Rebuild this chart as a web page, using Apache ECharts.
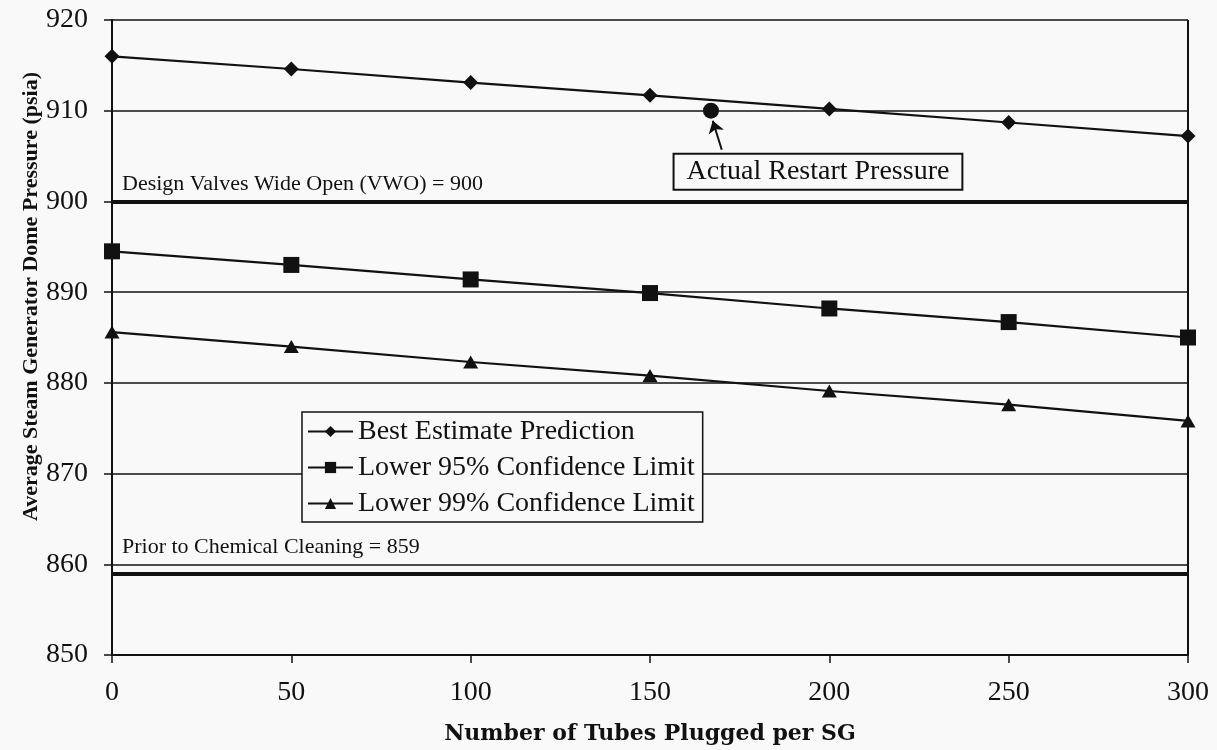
<!DOCTYPE html>
<html>
<head>
<meta charset="utf-8">
<script src="https://cdn.jsdelivr.net/npm/echarts@6/dist/echarts.min.js"></script>
<style>
html,body{margin:0;padding:0;background:#f9f9f9;}
#chart{width:1217px;height:750px;}
</style>
</head>
<body>
<div id="chart"></div>
<script>
// ---- data ----
var tubesPlugged = [0, 50, 100, 150, 200, 250, 300];
var bestEstimate = [916.0, 914.6, 913.1, 911.7, 910.2, 908.7, 907.2];
var lower95 = [894.5, 893.0, 891.4, 889.9, 888.2, 886.7, 885.0];
var lower99 = [885.6, 884.0, 882.3, 880.8, 879.1, 877.6, 875.8];
var restartPoint = [167, 910];
var designVWO = 900;
var priorCleaning = 859;
var seriesNames = ['Best Estimate Prediction', 'Lower 95% Confidence Limit', 'Lower 99% Confidence Limit'];
var yTitle = 'Average Steam Generator Dome Pressure (psia)';
var xTitle = 'Number of Tubes Plugged per SG';

function pairs(xs, ys){ return xs.map(function(x,i){ return [x, ys[i]]; }); }

var serif = '"Liberation Serif", "Times New Roman", serif';
var chart = echarts.init(document.getElementById('chart'), null, {renderer:'canvas'});
var option = {
  backgroundColor: '#f9f9f9',
  animation: false,
  grid: {left: 112, right: 29, top: 20, bottom: 95, containLabel: false},
  graphic: [{
    type: 'text', left: 20, top: 72, rotation: Math.PI / 2,
    style: {text: yTitle, fontFamily: serif, fontWeight: 'bold', fontSize: 22, fill: '#111'}
  }],
  xAxis: {
    type: 'value', min: 0, max: 300, interval: 50,
    name: xTitle,
    nameLocation: 'middle', nameGap: 68,
    nameTextStyle: {fontFamily: '"DejaVu Serif", serif', fontWeight: 'bold', fontSize: 22, color: '#111'},
    axisLine: {lineStyle: {color: '#111', width: 2}},
    axisTick: {show: true, inside: false, length: 8, lineStyle: {color: '#111', width: 1.5}},
    axisLabel: {fontFamily: serif, fontSize: 28, color: '#111', margin: 24},
    splitLine: {show: false}
  },
  yAxis: {
    type: 'value', min: 850, max: 920, interval: 10,
    axisLine: {show: true, lineStyle: {color: '#111', width: 2}},
    axisTick: {show: true, inside: false, length: 8, lineStyle: {color: '#111', width: 1.5}},
    axisLabel: {fontFamily: serif, fontSize: 28, color: '#111', margin: 24},
    splitLine: {show: true, lineStyle: {color: '#111', width: 1.5}}
  },
  legend: {
    orient: 'vertical', left: 302, top: 412,
    data: seriesNames,
    itemWidth: 45, itemHeight: 14, itemGap: 5,
    padding: [4, 8, 3, 5],
    borderColor: '#111', borderWidth: 1.5, backgroundColor: '#f9f9f9',
    textStyle: {fontFamily: serif, fontSize: 28, color: '#111', lineHeight: 31}
  },
  series: [
    {
      name: seriesNames[0], type: 'line', data: pairs(tubesPlugged, bestEstimate),
      symbol: 'diamond', symbolSize: 15,
      lineStyle: {color: '#111', width: 2.2}, itemStyle: {color: '#111'},
      z: 5,
      markLine: {
        silent: true, symbol: 'none',
        lineStyle: {color: '#111', width: 4, type: 'solid'},
        label: {show: true, position: 'insideStartTop', distance: [10, 6],
                fontFamily: serif, fontSize: 22, color: '#111'},
        data: [
          {yAxis: designVWO, label: {formatter: 'Design Valves Wide Open (VWO) = ' + designVWO}},
          {yAxis: priorCleaning, label: {formatter: 'Prior to Chemical Cleaning = ' + priorCleaning, distance: [10, 15]}},
          {xAxis: 300, lineStyle: {width: 2}, label: {show: false}}
        ]
      }
    },
    {
      name: seriesNames[1], type: 'line', data: pairs(tubesPlugged, lower95),
      symbol: 'rect', symbolSize: 16,
      lineStyle: {color: '#111', width: 2.2}, itemStyle: {color: '#111'}, z: 5
    },
    {
      name: seriesNames[2], type: 'line', data: pairs(tubesPlugged, lower99),
      symbol: 'triangle', symbolSize: [15, 13],
      lineStyle: {color: '#111', width: 2.2}, itemStyle: {color: '#111'}, z: 5
    },
    {
      name: 'Actual Restart Pressure', type: 'scatter', data: [restartPoint],
      symbol: 'circle', symbolSize: 16, itemStyle: {color: '#111', opacity: 1}, z: 6,
      label: {
        show: true, position: 'inside', offset: [107, 61],
        formatter: 'Actual Restart Pressure',
        fontFamily: serif, fontSize: 28, color: '#111',
        backgroundColor: '#f9f9f9', borderColor: '#111', borderWidth: 2,
        padding: [4, 12, 2, 12]
      },
      emphasis: {disabled: true},
      markLine: {
        silent: true, symbol: ['none', 'arrow'], symbolSize: 12,
        lineStyle: {color: '#111', width: 2, type: 'solid'},
        label: {show: false},
        data: [[{coord: [170, 905.7]}, {coord: [167.5, 908.9]}]]
      }
    }
  ]
};
chart.setOption(option);
</script>
</body>
</html>
